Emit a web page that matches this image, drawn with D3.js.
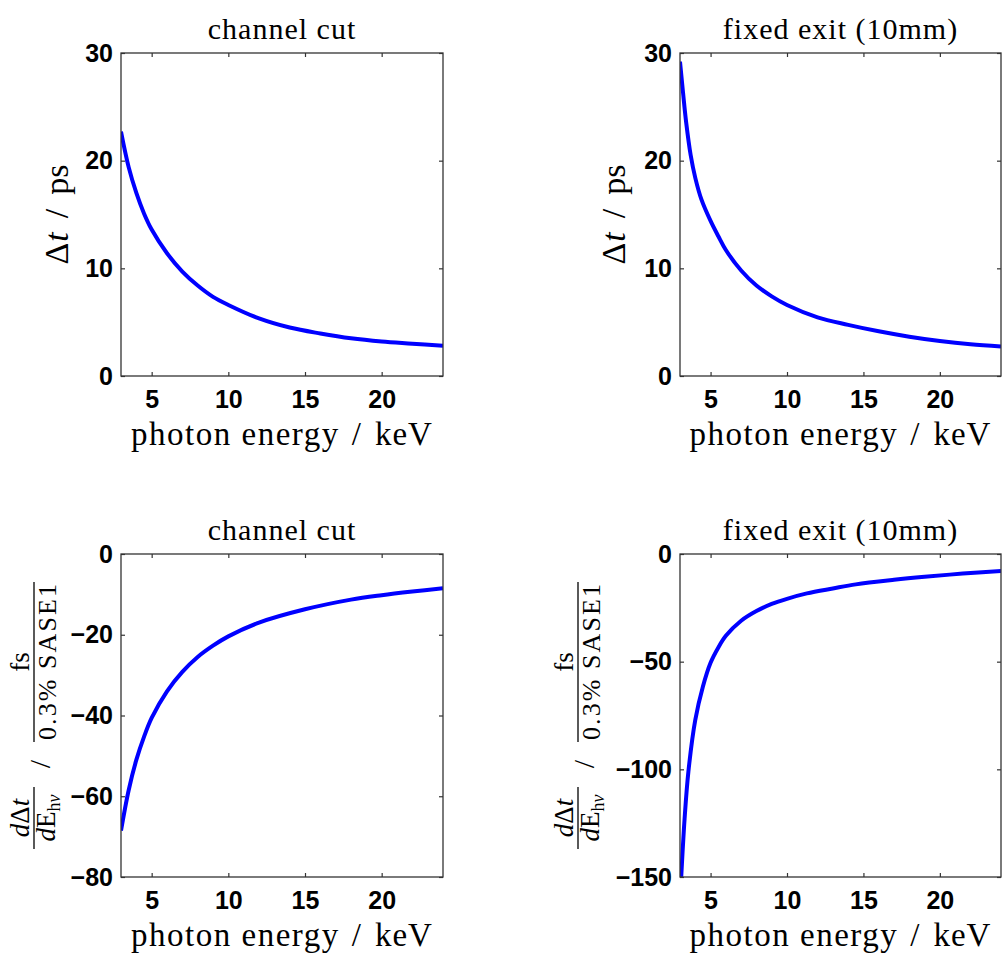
<!DOCTYPE html>
<html>
<head>
<meta charset="utf-8">
<script src="https://cdn.jsdelivr.net/npm/d3@7"></script>
<style>
  body { margin: 0; background: #fff; }
</style>
</head>
<body>
<svg id="chart" width="1007" height="956"></svg>
<script>
// values (photon energy in keV)
var titles = ["channel cut", "fixed exit (10mm)"];
var xTicks = [5, 10, 15, 20];

var energyCC = [3, 3.5, 4, 4.5, 5, 6, 7, 8, 9, 10, 12, 14, 16, 18, 20, 22, 24];
var dtCC = [22.7, 19.4, 17.0, 15.1, 13.6, 11.4, 9.7, 8.4, 7.35, 6.6, 5.35, 4.5, 3.95, 3.5, 3.2, 3.0, 2.8];

var energySlopeCC = [3, 3.5, 4, 4.5, 5, 6, 7, 8, 9, 10, 12, 15, 18, 20, 22, 24];
var slopeCC = [-68.5, -58.5, -51, -45.3, -40.6, -34, -29.2, -25.5, -22.7, -20.4, -17, -13.7, -11.3, -10.2, -9.3, -8.5];

var energyFE = [3, 3.2, 3.4, 3.7, 4, 4.4, 5, 5.5, 6, 7, 8, 9, 10, 12, 14, 16, 18, 20, 22, 24];
var dtFE = [29.2, 26.3, 23.6, 20.5, 18.4, 16.4, 14.4, 13.0, 11.7, 9.8, 8.4, 7.4, 6.6, 5.45, 4.75, 4.15, 3.65, 3.25, 2.95, 2.75];

var energySlopeFE = [3.08, 3.3, 3.55, 4, 4.5, 5, 5.5, 6, 7, 8, 9, 10, 11.3, 13, 14.5, 17, 19, 21.5, 24];
var slopeFE = [-150, -123, -101, -77, -61.5, -50.5, -43.5, -38, -31, -26.5, -23.2, -20.8, -18.3, -16, -14.1, -12, -10.6, -9.1, -7.9];

var yTicksDt = [0, 10, 20, 30];
var yTicksSlopeCC = [-80, -60, -40, -20, 0];
var yTicksSlopeFE = [-150, -100, -50, 0];

var SERIF = "'Liberation Serif', 'Times New Roman', serif";
var SANS = "'Liberation Sans', Arial, sans-serif";
var BLUE = "#0000ff";
var AXIS = "#333";

var svg = d3.select("#chart");

var panels = [
  {left: 121, top: 53, w: 322, h: 323, title: titles[0], xs: energyCC, ys: dtCC,
   domain: [0, 30], ticks: yTicksDt, label: "dt", labelX: 68},
  {left: 680, top: 53, w: 321, h: 323, title: titles[1], xs: energyFE, ys: dtFE,
   domain: [0, 30], ticks: yTicksDt, label: "dt", labelX: 625},
  {left: 121, top: 554, w: 322, h: 323, title: titles[0], xs: energySlopeCC, ys: slopeCC,
   domain: [-80, 0], ticks: yTicksSlopeCC, label: "slope", labelX: 34},
  {left: 680, top: 554, w: 321, h: 323, title: titles[1], xs: energySlopeFE, ys: slopeFE,
   domain: [-150, 0], ticks: yTicksSlopeFE, label: "slope", labelX: 578},
];

function styleAxis(g, withText) {
  g.select(".domain").remove();
  g.selectAll(".tick line").attr("stroke", AXIS).attr("stroke-width", 1.2);
  g.selectAll(".tick text")
    .attr("fill", "#000")
    .style("font-family", SANS)
    .style("font-weight", "bold")
    .style("font-size", "25px");
  if (!withText) g.selectAll(".tick text").remove();
}

// Δt / ps
function dtLabel(cx, cy) {
  var t = svg.append("text")
    .attr("transform", "translate(" + cx + "," + cy + ") rotate(-90)")
    .attr("text-anchor", "middle")
    .style("font-family", SERIF)
    .style("font-size", "34px");
  t.append("tspan").text("Δ");
  t.append("tspan").style("font-style", "italic").attr("dx", 1).text("t");
  t.append("tspan").attr("dx", 14).text("/");
  t.append("tspan").attr("dx", 14).text("ps");
}

// dΔt/dE_hν  /  fs/(0.3% SASE1), stacked as fractions and rotated
function slopeLabel(cx, cy) {
  var g = svg.append("g")
    .attr("transform", "translate(" + cx + "," + cy + ") rotate(-90)")
    .style("font-family", SERIF);

  // right fraction
  g.append("text").attr("x", 0).attr("y", -5).attr("text-anchor", "middle")
    .style("font-size", "27px").text("fs");
  g.append("line").attr("x1", -80).attr("x2", 80).attr("y1", 0).attr("y2", 0)
    .attr("stroke", "#000").attr("stroke-width", 1.3);
  g.append("text").attr("x", 0).attr("y", 22).attr("text-anchor", "middle")
    .attr("textLength", 156).attr("lengthAdjust", "spacing")
    .style("font-size", "26px").text("0.3% SASE1");

  g.append("text").attr("x", -102).attr("y", 16).attr("text-anchor", "middle")
    .style("font-size", "30px").text("/");

  // left fraction
  var num = g.append("text").attr("x", -156).attr("y", -5).attr("text-anchor", "middle")
    .style("font-size", "27px");
  num.append("tspan").style("font-style", "italic").text("d");
  num.append("tspan").text("Δ");
  num.append("tspan").style("font-style", "italic").text("t");
  g.append("line").attr("x1", -187).attr("x2", -125).attr("y1", 0).attr("y2", 0)
    .attr("stroke", "#000").attr("stroke-width", 1.3);
  var den = g.append("text").attr("x", -156).attr("y", 21).attr("text-anchor", "middle")
    .style("font-size", "27px");
  den.append("tspan").style("font-style", "italic").text("d");
  den.append("tspan").text("E");
  den.append("tspan").attr("dy", 5).style("font-size", "18px").text("h");
  den.append("tspan").style("font-size", "18px").style("font-style", "italic").text("ν");
}

panels.forEach(function(p, i) {
  var x = d3.scaleLinear().domain([3, 24]).range([p.left, p.left + p.w]);
  var y = d3.scaleLinear().domain(p.domain).range([p.top + p.h, p.top]);

  svg.append("clipPath").attr("id", "clip" + i)
    .append("rect").attr("x", p.left).attr("y", p.top).attr("width", p.w).attr("height", p.h);

  // inward ticks on all four sides
  svg.append("g").attr("transform", "translate(0," + (p.top + p.h) + ")")
    .call(d3.axisBottom(x).tickValues(xTicks).tickSizeInner(-4).tickSizeOuter(0).tickPadding(14))
    .call(styleAxis, true);
  svg.append("g").attr("transform", "translate(0," + p.top + ")")
    .call(d3.axisTop(x).tickValues(xTicks).tickSizeInner(-4).tickSizeOuter(0))
    .call(styleAxis, false);
  svg.append("g").attr("transform", "translate(" + p.left + ",0)")
    .call(d3.axisLeft(y).tickValues(p.ticks).tickSizeInner(-4).tickSizeOuter(0).tickPadding(8))
    .call(styleAxis, true);
  svg.append("g").attr("transform", "translate(" + (p.left + p.w) + ",0)")
    .call(d3.axisRight(y).tickValues(p.ticks).tickSizeInner(-4).tickSizeOuter(0))
    .call(styleAxis, false);

  var line = d3.line()
    .x(function(d) { return x(d[0]); })
    .y(function(d) { return y(d[1]); })
    .curve(d3.curveCatmullRom.alpha(0.5));

  svg.append("path")
    .datum(d3.zip(p.xs, p.ys))
    .attr("clip-path", "url(#clip" + i + ")")
    .attr("fill", "none")
    .attr("stroke", BLUE)
    .attr("stroke-width", 4)
    .attr("d", line);

  svg.append("rect")
    .attr("x", p.left).attr("y", p.top).attr("width", p.w).attr("height", p.h)
    .attr("fill", "none").attr("stroke", AXIS).attr("stroke-width", 1.3);

  var cx = p.left + p.w / 2;

  svg.append("text")
    .attr("x", cx).attr("y", p.top - 14)
    .attr("text-anchor", "middle")
    .style("font-family", SERIF).style("font-size", "30px").style("letter-spacing", "1px")
    .text(p.title);

  var xl = svg.append("text")
    .attr("x", cx).attr("y", p.top + p.h + 69)
    .attr("text-anchor", "middle")
    .style("font-family", SERIF).style("font-size", "33px");
  xl.append("tspan").style("letter-spacing", "1.5px").text("photon energy");
  xl.append("tspan").attr("dx", 12).text("/");
  xl.append("tspan").attr("dx", 14).style("letter-spacing", "1px").text("keV");

  if (p.label === "dt") dtLabel(p.labelX, p.top + p.h / 2);
  else slopeLabel(p.labelX, 662);
});
</script>
</body>
</html>
